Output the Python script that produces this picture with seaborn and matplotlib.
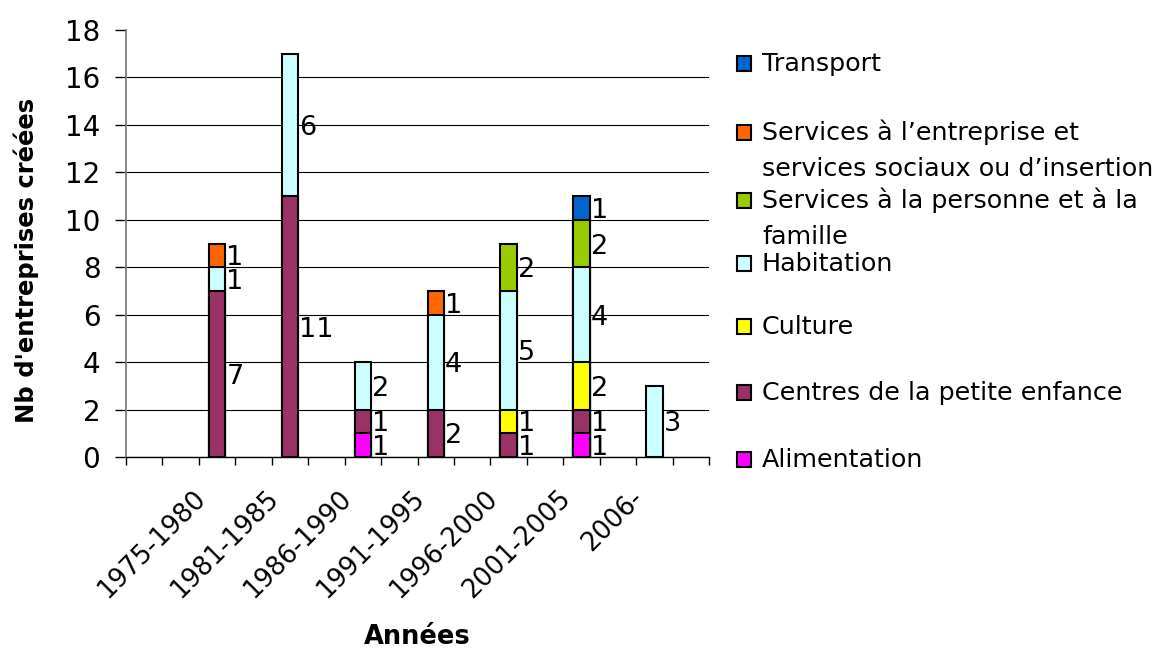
import numpy as np
import pandas as pd
import matplotlib
matplotlib.use("Agg")
import matplotlib.pyplot as plt
import seaborn as sns
from matplotlib.patches import Rectangle
from matplotlib.transforms import ScaledTranslation

# ---------------- data ----------------
periods = ["1975-1980", "1981-1985", "1986-1990", "1991-1995",
           "1996-2000", "2001-2005", "2006-"]

alimentation        = [0, 0, 1, 0, 0, 1, 0]
centres_petite_enf  = [7, 11, 1, 2, 1, 1, 0]
culture             = [0, 0, 0, 0, 1, 2, 0]
habitation          = [1, 6, 2, 4, 5, 4, 3]
services_personne   = [0, 0, 0, 0, 2, 2, 0]
services_entreprise = [1, 0, 0, 1, 0, 0, 0]
transport           = [0, 0, 0, 0, 0, 1, 0]

# stacking order: bottom -> top
series_names = ["Alimentation",
                "Centres de la petite enfance",
                "Culture",
                "Habitation",
                "Services à la personne et à la famille",
                "Services à l’entreprise et services sociaux ou d’insertion",
                "Transport"]
series_values = [alimentation, centres_petite_enf, culture, habitation,
                 services_personne, services_entreprise, transport]
series_colors = ["#FF00FF", "#993366", "#FFFF00", "#CCFFFF",
                 "#99CC00", "#FF6600", "#0066CC"]
legend_lines = [["Alimentation"],
                ["Centres de la petite enfance"],
                ["Culture"],
                ["Habitation"],
                ["Services à la personne et à la", "famille"],
                ["Services à l’entreprise et", "services sociaux ou d’insertion"],
                ["Transport"]]

y_ticks = list(range(0, 19, 2))

# ---------------- layout helpers ----------------
W, H = 1166, 650
n_slots = 16
slot_order = [f"_slot{k}" for k in range(n_slots)]
for i, p in enumerate(periods):
    slot_order[2 + 2 * i] = p
bar_w = 0.45

rows = []
for name, vals in zip(series_names, series_values):
    for p, v in zip(periods, vals):
        rows.append(dict(period=p, serie=name, value=v))
df = pd.DataFrame(rows)
df["serie"] = pd.Categorical(df["serie"], categories=series_names, ordered=True)
df = df.sort_values(["period", "serie"]).reset_index(drop=True)
df["top"] = df.groupby("period", sort=False)["value"].cumsum()
df["bottom"] = df["top"] - df["value"]

# ---------------- figure ----------------
sns.set_style("white")
plt.rcParams["font.family"] = ["DejaVu Sans"]
plt.rcParams["text.color"] = "black"
plt.rcParams["axes.labelcolor"] = "black"
plt.rcParams["xtick.color"] = "black"
plt.rcParams["ytick.color"] = "black"
plt.rcParams["xtick.bottom"] = True
plt.rcParams["ytick.left"] = True

fig = plt.figure(figsize=(W / 100, H / 100), dpi=100)
fig.patch.set_facecolor("white")
ax = fig.add_axes([126 / W, 1 - 457 / H, 583 / W, 427 / H])

# cumulative bars drawn from top series down so each lower one overlays
for name, color in reversed(list(zip(series_names, series_colors))):
    sub = df[(df["serie"] == name) & (df["value"] > 0)]
    sns.barplot(data=sub, x="period", y="top", order=slot_order,
                color=color, saturation=1, width=bar_w,
                edgecolor="black", linewidth=1.5, errorbar=None, ax=ax)

# data labels to the right of each segment
lab_off = ScaledTranslation(1 / 100, 0, fig.dpi_scale_trans)
for _, r in df[df["value"] > 0].iterrows():
    xpos = slot_order.index(r["period"])
    ax.text(xpos + bar_w / 2, r["bottom"] + r["value"] / 2, f"{r['value']:g}",
            ha="left", va="center_baseline", fontsize=19.5, color="black",
            transform=ax.transData + lab_off, zorder=5)

# axes
ax.set_xlim(-0.5, n_slots - 0.5)
ax.set_ylim(0, 18)
ax.set_yticks(y_ticks)
ax.set_yticklabels([str(t) for t in y_ticks], color="black")
ax.set_xticks([2 + 2 * i for i in range(len(periods))])
ax.set_xticklabels(periods, rotation=45, ha="right", va="center",
                   rotation_mode="anchor", fontsize=18.5, color="black")
ax.set_xticks(np.arange(-0.5, n_slots, 1), minor=True)
ax.tick_params(axis="x", which="major", length=0, pad=27, bottom=True)
ax.tick_params(axis="x", which="minor", length=5.5, width=1, bottom=True,
               color="black", direction="out")
ax.tick_params(axis="y", which="major", length=8, width=1, color="black",
               left=True, direction="out", pad=10.5, labelsize=20,
               labelcolor="black")
xoff = ScaledTranslation(-15 / 100, 0, fig.dpi_scale_trans)
for lab in ax.get_xticklabels():
    lab.set_transform(lab.get_transform() + xoff)

ax.yaxis.grid(True, color="black", linewidth=0.8)
ax.xaxis.grid(False)
ax.set_axisbelow(True)
ax.get_ygridlines()[-1].set_visible(False)

for s in ["top", "right"]:
    ax.spines[s].set_visible(False)
ax.spines["left"].set_color("#808080")
ax.spines["left"].set_linewidth(1.3)
ax.spines["bottom"].set_color("black")
ax.spines["bottom"].set_linewidth(1.0)

ax.set_ylabel("Nb d'entreprises créées", fontsize=17.5, fontweight="bold",
              color="black")
ax.yaxis.set_label_coords(-0.1715, 0.4614)
ax.yaxis.label.set_va("center")
ax.set_xlabel("Années", fontsize=18.5, fontweight="bold", color="black")
ax.xaxis.set_label_coords(0.5, -0.438)
ax.xaxis.label.set_va("baseline")

# legend (drawn manually, top -> bottom)
leg_baselines = [70.7, 140, 208.3, 270.7, 334, 400, 467]
line_gap = 35.5
for k, idx in enumerate(reversed(range(len(series_names)))):
    b = leg_baselines[k]
    fig.add_artist(Rectangle((736.5 / W, 1 - b / H), 15 / W, 15 / H,
                             transform=fig.transFigure,
                             facecolor=series_colors[idx],
                             edgecolor="black", linewidth=1.5))
    for j, line in enumerate(legend_lines[idx]):
        fig.text(762 / W, 1 - (b + j * line_gap) / H, line,
                 ha="left", va="baseline", fontsize=18.3, color="black")

fig.savefig("out.png", dpi=100, facecolor="white")
